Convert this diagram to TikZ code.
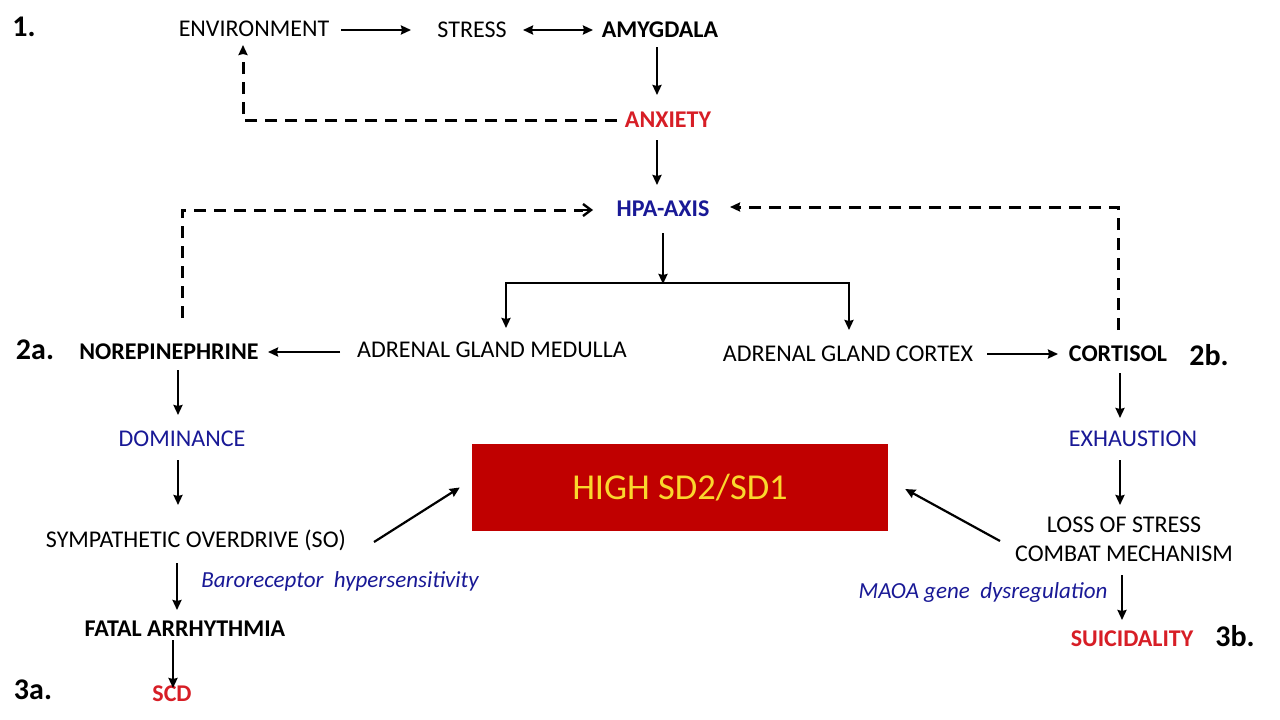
\documentclass[tikz,border=0pt]{standalone}
\usepackage{fontspec}
\setmainfont{Carlito}
\usetikzlibrary{arrows.meta,calc}
\definecolor{myred}{RGB}{215,30,38}
\definecolor{myblue}{RGB}{25,25,150}
\definecolor{boxred}{RGB}{192,0,0}
\definecolor{boxyellow}{RGB}{250,215,45}
\tikzset{
  txt/.style={inner sep=0pt, font=\fontsize{24}{29}\selectfont, align=center},
  btxt/.style={txt, font=\fontsize{24}{29}\selectfont\bfseries},
  itxt/.style={txt, font=\fontsize{23}{28}\selectfont\itshape, text=myblue},
  lbl/.style={inner sep=0pt, font=\fontsize{30}{34}\selectfont\bfseries},
  arr/.style={line width=2.2pt, -{Stealth[length=10pt,width=9pt,inset=1pt]}},
  darr/.style={line width=3pt, dash pattern=on 12pt off 8pt, -{Stealth[length=10pt,width=9pt,inset=1pt]}},
  dline/.style={line width=3pt, dash pattern=on 12pt off 8pt},
}
\begin{document}
\begin{tikzpicture}[x=1pt,y=-1pt]
\useasboundingbox[fill=white] (0,0) rectangle (1280,720);
% labels
\node[lbl] (one) at (24,27) {1.};
\node[lbl] (twoA) at (35,350) {2a.};
\node[lbl] (twoB) at (1209,355) {2b.};
\node[lbl] (threeA) at (33,690) {3a.};
\node[lbl] (threeB) at (1235,636) {3b.};
% nodes
\node[txt] (env) at (254,29) {ENVIRONMENT};
\node[txt] (stress) at (472,30) {STRESS};
\node[btxt] (amyg) at (660,30) {AMYGDALA};
\node[btxt, text=myred] (anx) at (668,120) {ANXIETY};
\node[btxt, text=myblue] (hpa) at (663,209) {HPA-AXIS};
\node[txt] (med) at (492,350) {ADRENAL GLAND MEDULLA};
\node[btxt] (norepi) at (169,352) {NOREPINEPHRINE};
\node[txt] (cortex) at (848,354) {ADRENAL GLAND CORTEX};
\node[btxt] (cortisol) at (1118,354) {CORTISOL};
\node[txt, text=myblue] (dom) at (182,439) {DOMINANCE};
\node[txt, text=myblue] (exh) at (1133,439) {EXHAUSTION};
\node[fill=boxred, minimum width=416pt, minimum height=87pt, inner sep=0pt,
      font=\fontsize{36.5}{40}\selectfont, text=boxyellow] (box) at (680,487.5) {HIGH SD2/SD1};
\node[txt] (so) at (196,540) {SYMPATHETIC OVERDRIVE (SO)};
\node[txt] (loss) at (1124,539.5) {LOSS OF STRESS\\COMBAT MECHANISM};
\node[itxt] (baro) at (340,581) {Baroreceptor\ \ hypersensitivity};
\node[itxt] (maoa) at (983,592) {MAOA gene\ \ dysregulation};
\node[btxt] (fatal) at (185,629) {FATAL ARRHYTHMIA};
\node[btxt, text=myred] (suic) at (1132,639) {SUICIDALITY};
\node[btxt, text=myred] (scd) at (172,694) {SCD};
% split point under HPA
\coordinate (split) at ($(hpa.center)+(0,74)$);
% solid arrows
\draw[arr] ([shift={(87,1)}]env.center) -- ([shift={(-61,0)}]stress.center);
\draw[line width=2.2pt, {Stealth[length=10pt,width=9pt,inset=1pt]}-{Stealth[length=10pt,width=9pt,inset=1pt]}] ([shift={(51,0)}]stress.center) -- ([shift={(-67,0)}]amyg.center);
\draw[arr] ([shift={(-3,17)}]amyg.center) -- ([shift={(-3,-25)}]anx.center -| amyg.center);
\draw[arr] ([shift={(-11,20)}]anx.center) -- ([shift={(-6,-24)}]hpa.center);
\draw[arr, shorten >=-1pt] ([shift={(0,24)}]hpa.center) -- (split);
\draw[arr] ([shift={(-157,0)}]split) -- ([shift={(14,-22)}]med.center);
\draw[line width=2.2pt] ([shift={(-158,0)}]split) -- ([shift={(187,0)}]split);
\draw[arr] ([shift={(186,0)}]split) -- ([shift={(1,-24)}]cortex.center);
\draw[arr] ([shift={(-152,2)}]med.center) -- ([shift={(99,0)}]norepi.center);
\draw[arr] ([shift={(139,0)}]cortex.center) -- ([shift={(-60,0)}]cortisol.center);
\draw[arr] ([shift={(9,18)}]norepi.center) -- ([shift={(-4,-24)}]dom.center);
\draw[arr] ([shift={(-4,21)}]dom.center) -- ([shift={(-18,-35)}]so.center);
\draw[arr] ([shift={(-19,23)}]so.center) -- ([shift={(-8,-19)}]fatal.center);
\draw[arr] ([shift={(-12,11)}]fatal.center) -- ([shift={(1,-6)}]scd.center);
\draw[arr] ([shift={(178,2)}]so.center) -- ([shift={(-12,0)}]box.west);
\draw[arr] ([shift={(-124,1.5)}]loss.center) -- ([shift={(17,1.5)}]box.east);
\draw[arr] ([shift={(2,19)}]cortisol.center) -- ([shift={(-13,-21)}]exh.center);
\draw[arr] ([shift={(-13,21)}]exh.center) -- ([shift={(-4,-34.5)}]loss.center);
\draw[arr] ([shift={(-2,35.5)}]loss.center) -- ([shift={(-10,-19)}]suic.center);
% dashed feedback arrows
\draw[darr] ([shift={(-51,0)}]anx.center) -| ([shift={(-11,16)}]env.center);
\draw[dline] ([shift={(13,-34)}]norepi.center) |- ([shift={(-80,1)}]hpa.center);
\draw[line width=2.4pt, -{Straight Barb[length=8pt,width=12pt]}] ([shift={(-82,1)}]hpa.center) -- ([shift={(-70,1)}]hpa.center);
\draw[darr] ([shift={(0,-24)}]cortisol.center) |- ([shift={(67,-2)}]hpa.center);
\end{tikzpicture}
\end{document}
